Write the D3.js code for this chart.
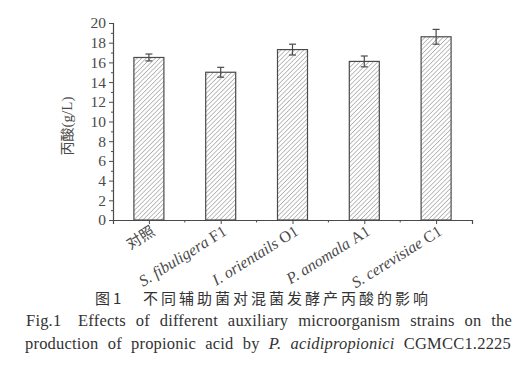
<!DOCTYPE html>
<html>
<head>
<meta charset="utf-8">
<script src="https://cdn.jsdelivr.net/npm/d3@7"></script>
<style>
  body { margin: 0; background: #fff; }
  svg { display: block; }
</style>
</head>
<body>
<div id="chart"></div>
<script>
let strains = ["对照", "S. fibuligera F1", "I. orientails O1", "P. anomala A1", "S. cerevisiae C1"];
let acid = [16.5, 15.0, 17.3, 16.1, 18.6];
let errs = [0.35, 0.5, 0.55, 0.55, 0.75];
let yTicks = [0, 2, 4, 6, 8, 10, 12, 14, 16, 18, 20];

let W = 525, H = 386;
let margin = { left: 113, right: 53, top: 23, bottom: 166 };
let width = W - margin.left - margin.right,
  height = H - margin.top - margin.bottom;
let ink = "#4a4a4a";
let serif = "'Liberation Serif', 'DejaVu Serif', serif";
let cjk = "'Noto Sans CJK SC', serif";

let svg = d3.select("#chart").append("svg")
  .attr("width", W)
  .attr("height", H)
  .style("font-family", serif);

let defs = svg.append("defs");
let pat = defs.append("pattern")
  .attr("id", "hatch")
  .attr("patternUnits", "userSpaceOnUse")
  .attr("width", 3.2)
  .attr("height", 3.2)
  .attr("patternTransform", "rotate(45)");
pat.append("rect").attr("width", 3.2).attr("height", 3.2).attr("fill", "#fff");
pat.append("line")
  .attr("x1", 0).attr("y1", 0).attr("x2", 0).attr("y2", 3.2)
  .attr("stroke", "#8a8a8a").attr("stroke-width", 1.1);

let g = svg.append("g")
  .attr("transform", "translate(" + margin.left + "," + margin.top + ")");

let x = d3.scalePoint().domain(strains).range([0, width]).padding(0.5);
let y = d3.scaleLinear().domain([0, 20]).range([height, 0]);
let step = x.step();
let barW = 30;

// bars
g.selectAll("rect.bar").data(strains).enter()
  .append("rect")
  .attr("class", "bar")
  .attr("x", d => x(d) - barW / 2)
  .attr("y", (d, i) => y(acid[i]))
  .attr("width", barW)
  .attr("height", (d, i) => height - y(acid[i]))
  .attr("fill", "url(#hatch)")
  .attr("stroke", ink)
  .attr("stroke-width", 1.2);

// error bars
let eb = g.selectAll("g.err").data(strains).enter().append("g").attr("class", "err");
eb.append("line")
  .attr("x1", d => x(d)).attr("x2", d => x(d))
  .attr("y1", (d, i) => y(acid[i] - errs[i]))
  .attr("y2", (d, i) => y(acid[i] + errs[i]))
  .attr("stroke", ink).attr("stroke-width", 1.2);
[1, -1].forEach(s => {
  eb.append("line")
    .attr("x1", d => x(d) - 3.5).attr("x2", d => x(d) + 3.5)
    .attr("y1", (d, i) => y(acid[i] + s * errs[i]))
    .attr("y2", (d, i) => y(acid[i] + s * errs[i]))
    .attr("stroke", ink).attr("stroke-width", 1.2);
});

// y axis
let yAxis = g.append("g")
  .call(d3.axisLeft(y).tickValues(yTicks).tickSize(4).tickPadding(3));
yAxis.attr("font-family", null);
yAxis.selectAll("text")
  .attr("font-size", 15.5)
  .attr("fill", ink)
  .style("font-family", serif);
let yMinor = g.append("g")
  .call(d3.axisLeft(y).tickValues(d3.range(1, 20, 2)).tickSize(2).tickFormat(""));
yMinor.select(".domain").remove();

// x axis
let xAxis = g.append("g")
  .attr("transform", "translate(0," + height + ")")
  .call(d3.axisBottom(x).tickSize(4).tickFormat(""));
let minorX = strains.slice(1).map(d => x(d) - step / 2);
g.append("g").selectAll("line").data(minorX).enter()
  .append("line")
  .attr("x1", d => d).attr("x2", d => d)
  .attr("y1", height).attr("y2", height + 2.5)
  .attr("stroke", ink);

[yAxis, yMinor, xAxis].forEach(a => {
  a.selectAll("line").attr("stroke", ink);
  a.selectAll("path").attr("stroke", ink).attr("stroke-width", 1.2);
});

// rotated category labels
g.append("g").selectAll("text").data(strains).enter()
  .append("text")
  .attr("transform", d => "translate(" + (x(d) + 7) + "," + (height + 14) + ") rotate(-32)")
  .attr("text-anchor", "end")
  .attr("font-size", 16)
  .attr("fill", ink)
  .each(function (d, i) {
    let t = d3.select(this);
    if (i === 0) {
      t.style("font-family", cjk).attr("font-size", 15).text(d);
    } else {
      let parts = d.split(" ");
      let strain = parts.pop();
      t.append("tspan").attr("font-style", "italic").text(parts.join(" ") + " ");
      t.append("tspan").text(strain);
    }
  });

// y label
svg.append("text")
  .attr("transform", "translate(72,126) rotate(-90)")
  .attr("text-anchor", "middle")
  .attr("font-size", 15)
  .attr("fill", ink)
  .each(function () {
    let t = d3.select(this);
    t.append("tspan").style("font-family", cjk).attr("font-size", 14).text("丙酸");
    t.append("tspan").text("(g/L)");
  });

// captions
let capCn = svg.append("text")
  .attr("y", 304)
  .attr("font-size", 15)
  .attr("letter-spacing", 3)
  .attr("fill", "#333")
  .style("font-family", cjk);
capCn.append("tspan").attr("x", 95).text("图1");
capCn.append("tspan").attr("x", 143).text("不同辅助菌对混菌发酵产丙酸的影响");

function justify(sel, target) {
  let node = sel.node();
  let w = node.getComputedTextLength();
  let spaces = (node.textContent.match(/ /g) || []).length;
  if (spaces > 0 && w < target) sel.attr("word-spacing", (target - w) / spaces);
}

let cap1 = svg.append("text")
  .attr("x", 26).attr("y", 326)
  .attr("font-size", 16.5)
  .attr("letter-spacing", 0.2)
  .attr("fill", "#333")
  .text("Fig.1\u2003Effects of different auxiliary microorganism strains on the");
justify(cap1, 486);

let cap2 = svg.append("text")
  .attr("x", 25).attr("y", 349)
  .attr("font-size", 16.5)
  .attr("letter-spacing", 0.2)
  .attr("fill", "#333");
cap2.append("tspan").text("production of propionic acid by ");
cap2.append("tspan").attr("font-style", "italic").text("P. acidipropionici");
cap2.append("tspan").text(" CGMCC1.2225");
justify(cap2, 486);
</script>
</body>
</html>
